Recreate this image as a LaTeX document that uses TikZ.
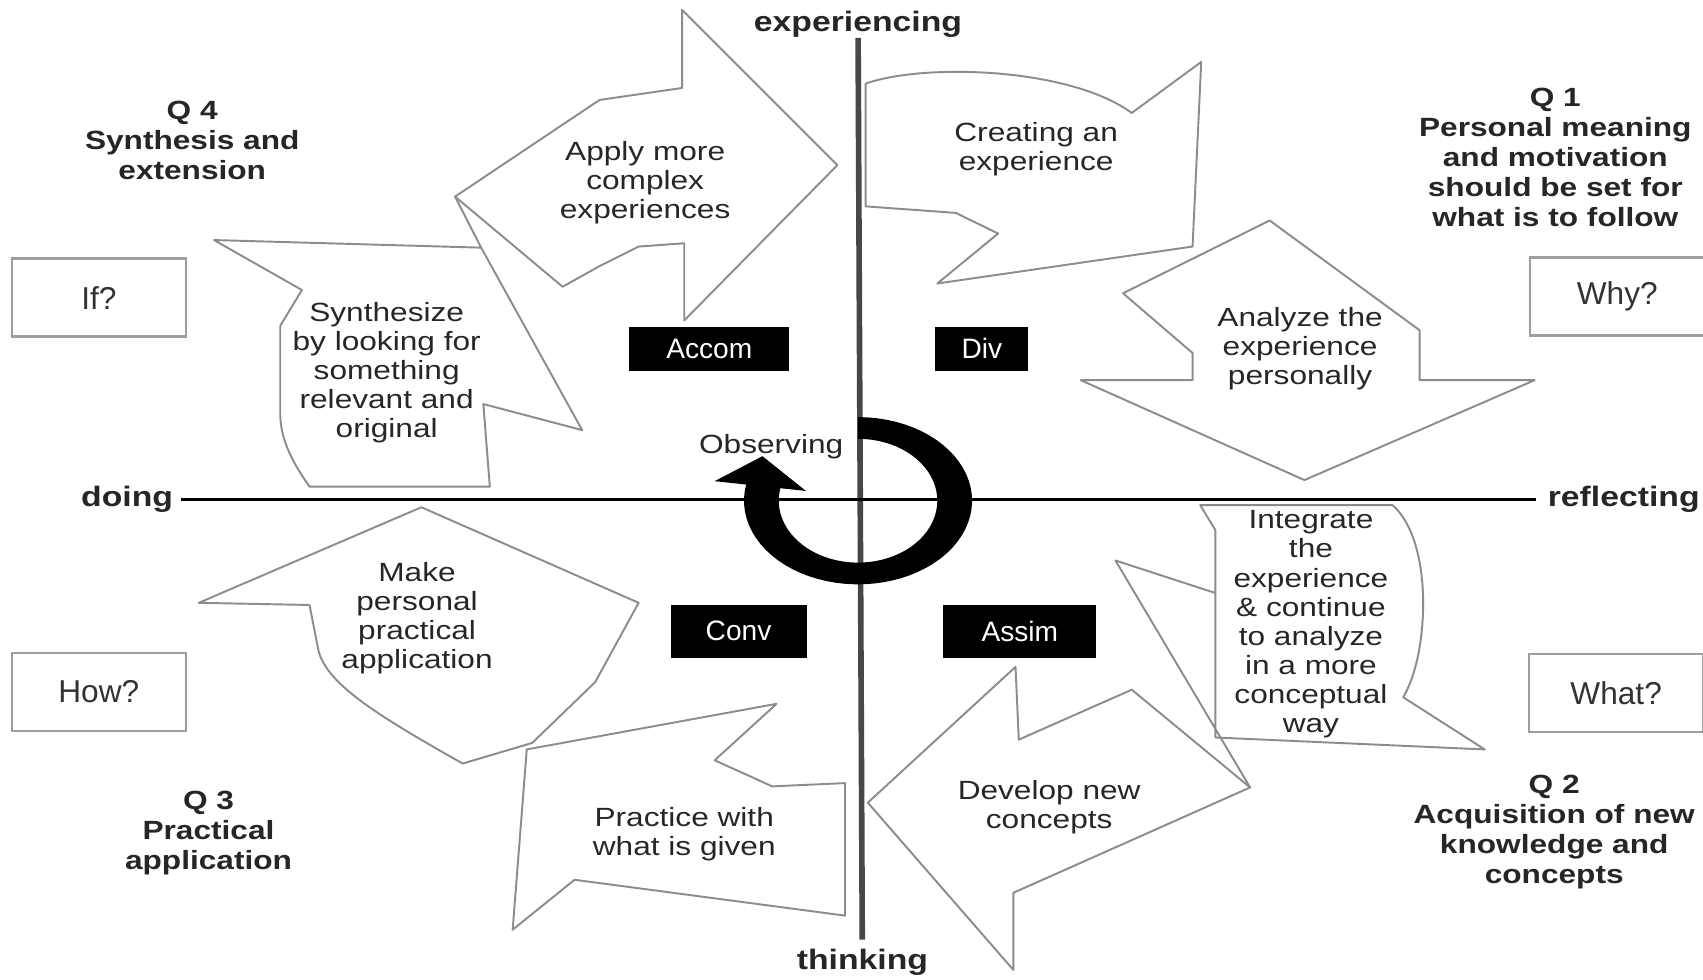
\documentclass[tikz,border=0pt]{standalone}
\usepackage{fontspec}
\setmainfont{Liberation Sans}
\usetikzlibrary{arrows.meta}

\begin{document}
\begin{tikzpicture}[x=0.10861mm,y=-0.10861mm,
	txt/.style={font=\fontsize{7.5}{8.3}\selectfont,align=center,inner sep=0pt,xscale=1.2,transform shape,text=black!85},
	quad/.style={txt,font=\fontsize{7.5}{8.5}\selectfont\bfseries},
	axlbl/.style={txt,font=\fontsize{8}{9}\selectfont\bfseries},
	blk/.style={fill=black,text=white,font=\fontsize{8}{9}\selectfont,inner sep=0pt,minimum height=4.4mm},
	qbox/.style={draw=black!38,line width=0.7pt,minimum width=17.4mm,minimum height=7.8mm,inner sep=0pt,font=\fontsize{9}{10}\selectfont,text=black!80},
	blob/.style={draw=black!45,line width=0.55pt,line join=round}]

	\useasboundingbox (0,0) rectangle (1568,902);

	% the eight arrows and bubbles
	\draw[blob] (628,9) -- (771,152) -- (630,295) -- (630,224) -- (588,227) -- (552,245) -- (518,264) -- (419,181) -- (552,92) -- (628,81) -- cycle;
	\draw[blob] (797,77) .. controls (850,58) and (985,62) .. (1042,104) -- (1106,57) -- (1098,227) -- (863,261) -- (919,215) -- (880,196) -- (797,190) -- cycle;
	\draw[blob] (1169,203) -- (1307,304) -- (1307,350) -- (1413,350) -- (1201,442) -- (995,350) -- (1098,350) -- (1098,325) -- (1034,270) -- cycle;
	\draw[blob] (1105,465) -- (1282,465) .. controls (1305,485) and (1312,530) .. (1310,568) .. controls (1308,605) and (1300,628) .. (1292,642) -- (1367,690) -- (1119,679) -- (1119,488) -- cycle
		(1119,546) -- (1027,516) -- (1151,725);
	\draw[blob] (799,739) -- (935,614) -- (938,681) -- (1042,635) -- (1151,725) -- (933,822) -- (933,893) -- cycle;
	\draw[blob] (485,690) -- (715,648) -- (658,700) -- (711,724) -- (778,721) -- (778,843) -- (529,810) -- (472,856) -- cycle;
	\draw[blob] (388,467) -- (588,555) -- (548,628) -- (490,684) -- (426,703) .. controls (350,660) and (300,630) .. (293,598) -- (285,557) -- (183,555) -- cycle;
	\draw[blob] (197,221) -- (443,228) -- (536,396) -- (445,372) -- (451,448) -- (285,448) .. controls (265,420) and (258,400) .. (258,380) -- (258,300) -- (278,267) -- cycle
		(419,181) -- (443,228);

	% axes
	\node[axlbl] (exp) at (790,22) {experiencing};
	\node[axlbl] (thk) at (794,886) {thinking};
	\node[axlbl] (doi) at (117,460) {doing};
	\node[axlbl] (ref) at (1495,460) {reflecting};
	\draw[line width=1.6pt,black!72,shorten >=2.5pt] (exp) -- (thk);
	\draw[line width=1pt,black,shorten <=2pt,shorten >=3pt] (doi) -- (ref);

	% cycle arrow
	\fill[black] plot[domain=-90:192,samples=60] ({790+105*cos(\x)},{461+77*sin(\x)})
		-- plot[domain=192:-90,samples=60] ({790+73*cos(\x)},{461+57*sin(\x)}) -- cycle;
	\fill[black] (658,443) -- (702,420) -- (742,452) -- cycle;
	\node[txt] (obs) at (710,411) {Observing};

	% learner styles
	\node[blk,minimum width=16mm] (accom) at (653,321) {Accom};
	\node[blk,minimum width=9.3mm] (div) at (904,321) {Div};
	\node[blk,minimum width=13.6mm,minimum height=5.3mm] (conv) at (680,581) {Conv};
	\node[blk,minimum width=15.3mm,minimum height=5.3mm] (assim) at (939,581) {Assim};

	\node[qbox] (qif) at (91,274) {If?};
	\node[qbox] (qwhy) at (1489,273) {Why?};
	\node[qbox] (qhow) at (91,637) {How?};
	\node[qbox] (qwhat) at (1488,638) {What?};

	\node[quad] (q4) at (177,129) {Q 4\\Synthesis and\\extension};
	\node[quad] (q1) at (1432,145) {Q 1\\Personal meaning\\and motivation\\should be set for\\what is to follow};
	\node[quad] (q3) at (192,767) {Q 3\\Practical\\application};
	\node[quad] (q2) at (1431,766) {Q 2\\Acquisition of new\\knowledge and\\concepts};

	\node[txt] (apply) at (594,168) {Apply more\\complex\\experiences};
	\node[txt] (create) at (954,137) {Creating an\\experience};
	\node[txt] (analyze) at (1197,321) {Analyze the\\experience\\personally};
	\node[txt] (synth) at (356,343) {Synthesize\\by looking for\\something\\relevant and\\original};
	\node[txt] (make) at (384,569) {Make\\personal\\practical\\application};
	\node[txt] (integ) at (1207,575) {Integrate\\the\\experience\\\& continue\\to analyze\\in a more\\conceptual\\way};
	\node[txt] (develop) at (966,743) {Develop new\\concepts};
	\node[txt] (practice) at (630,768) {Practice with\\what is given};

\end{tikzpicture}
\end{document}
